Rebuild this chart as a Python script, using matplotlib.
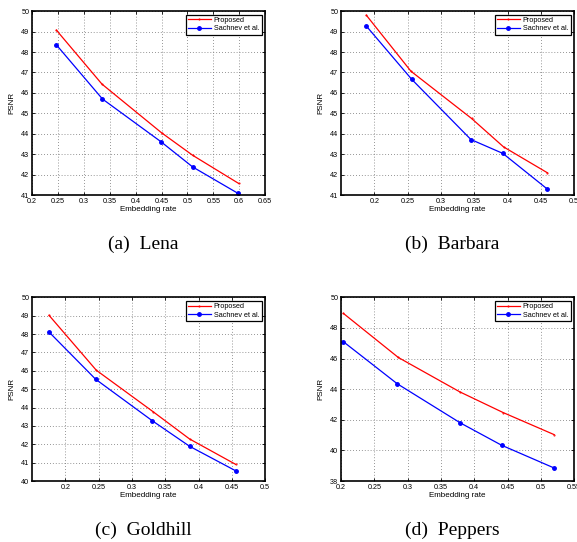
import matplotlib
matplotlib.use('Agg')
import matplotlib.pyplot as plt
import numpy as np

# Lena
lena_x_prop = [0.247, 0.335, 0.450, 0.510, 0.599]
lena_prop = [49.07, 46.43, 44.05, 42.95, 41.57]
lena_x_sach = [0.247, 0.336, 0.449, 0.510, 0.598]
lena_sach = [48.35, 45.70, 43.61, 42.38, 41.08]

# Barbara
barb_x_prop = [0.188, 0.255, 0.346, 0.394, 0.460]
barb_prop = [49.80, 47.06, 44.75, 43.36, 42.09]
barb_x_sach = [0.188, 0.256, 0.345, 0.393, 0.460]
barb_sach = [49.27, 46.67, 43.72, 43.04, 41.29]

# Goldhill
gold_x_prop = [0.1755, 0.2465, 0.3315, 0.3865, 0.4556]
gold_prop = [49.02, 46.03, 43.78, 42.29, 40.91]
gold_x_sach = [0.1755, 0.2455, 0.3306, 0.3866, 0.4556]
gold_sach = [48.11, 45.54, 43.28, 41.89, 40.56]

# Peppers
pep_x_prop = [0.2035, 0.286, 0.3785, 0.4435, 0.520]
pep_prop = [48.95, 46.07, 43.82, 42.47, 41.03]
pep_x_sach = [0.2035, 0.2845, 0.379, 0.441, 0.5195]
pep_sach = [47.10, 44.35, 41.80, 40.34, 38.86]

captions = ['(a)  Lena', '(b)  Barbara', '(c)  Goldhill', '(d)  Peppers']

plt.rcParams['font.family'] = 'Liberation Sans'

fig = plt.figure(figsize=(5.77, 5.42), dpi=100)

panels = [
    ([0.0555, 0.640, 0.404, 0.3395], lena_x_prop, lena_prop, lena_x_sach, lena_sach,
     (0.2, 0.65), np.arange(0.2, 0.651, 0.05), (41, 50), np.arange(41, 51, 1)),
    ([0.591, 0.640, 0.404, 0.3395], barb_x_prop, barb_prop, barb_x_sach, barb_sach,
     (0.15, 0.5), np.arange(0.2, 0.501, 0.05), (41, 50), np.arange(41, 51, 1)),
    ([0.0555, 0.1125, 0.404, 0.339], gold_x_prop, gold_prop, gold_x_sach, gold_sach,
     (0.15, 0.5), np.arange(0.2, 0.501, 0.05), (40, 50), np.arange(40, 51, 1)),
    ([0.591, 0.1125, 0.404, 0.339], pep_x_prop, pep_prop, pep_x_sach, pep_sach,
     (0.2, 0.55), np.arange(0.2, 0.551, 0.05), (38, 50), np.arange(38, 51, 2)),
]

cap_pos = [(143, 244), (452, 244), (143, 530), (452, 530)]

for i, p in enumerate(panels):
    rect, xp, yp, xs, ys, xl, xt, yl, yt = p
    ax = fig.add_axes(rect)
    ax.plot(xp, yp, '-', color='red', lw=0.9, marker='.', markersize=1, label='Proposed')
    ax.plot(xs, ys, '-', color='blue', lw=0.9, marker='o', markersize=2.5, label='Sachnev et al.')
    ax.set_xlim(xl)
    ax.set_ylim(yl)
    ax.set_xticks(xt)
    ax.set_xticklabels(['%g' % round(v, 2) for v in xt])
    ax.set_yticks(yt)
    ax.tick_params(direction='in', labelsize=5.2, length=2.5, width=0.6, pad=2,
                   top=True, right=True)
    ax.grid(True, linestyle=(0, (1, 2.5)), color='0.45', lw=0.6)
    for s in ax.spines.values():
        s.set_linewidth(1.2)
    ax.set_xlabel('Embedding rate', fontsize=5.8, labelpad=1)
    ax.set_ylabel('PSNR', fontsize=5.8, labelpad=4)
    leg = ax.legend(loc='upper right', fontsize=5.2, fancybox=False, framealpha=1,
                    edgecolor='black', borderpad=0.3, handlelength=3.2,
                    handletextpad=0.4, labelspacing=0.2, borderaxespad=0.5)
    leg.get_frame().set_linewidth(0.9)
    cx, cy = cap_pos[i]
    fig.text(cx / 577, 1 - cy / 542, captions[i], ha='center', va='center',
             fontsize=14, family='Liberation Serif')

fig.savefig('out.png', dpi=100)
